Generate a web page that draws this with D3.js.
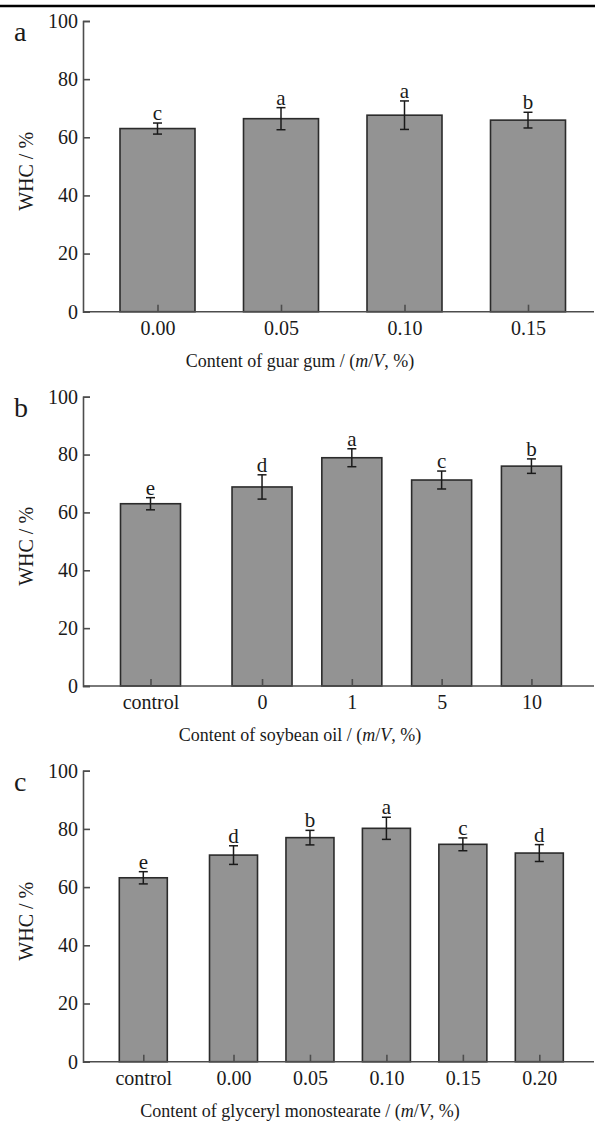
<!DOCTYPE html>
<html>
<head>
<meta charset="utf-8">
<script src="https://cdn.jsdelivr.net/npm/d3@7"></script>
<style>
  html, body { margin: 0; padding: 0; background: #fff; }
  svg { display: block; }
  text { font-family: "Liberation Serif", "Times New Roman", serif; fill: #1a1a1a; }
</style>
</head>
<body>
<svg id="chart" width="595" height="1122"></svg>
<script>
// ---------- data ----------
const yTicks = [0, 20, 40, 60, 80, 100];

const catsA = ["0.00", "0.05", "0.10", "0.15"];
const valsA = [63.0, 66.4, 67.6, 65.9];
const errA  = [1.9, 3.8, 4.9, 2.7];
const sigA  = ["c", "a", "a", "b"];

const catsB = ["control", "0", "1", "5", "10"];
const valsB = [63.0, 68.8, 78.9, 71.2, 76.0];
const errB  = [2.1, 4.2, 3.1, 3.1, 2.5];
const sigB  = ["e", "d", "a", "c", "b"];

const catsC = ["control", "0.00", "0.05", "0.10", "0.15", "0.20"];
const valsC = [63.2, 71.0, 77.0, 80.2, 74.7, 71.7];
const errC  = [2.1, 3.2, 2.5, 3.8, 2.2, 2.9];
const sigC  = ["e", "d", "b", "a", "c", "d"];

const titleA = "Content of guar gum";
const titleB = "Content of soybean oil";
const titleC = "Content of glyceryl monostearate";

// ---------- layout ----------
const svg = d3.select("#chart");
const FILL = "#939393", EDGE = "#2b2b2b", AXIS = "#4d4d4d";

// top rule of the page
svg.append("line").attr("x1", 0).attr("x2", 595).attr("y1", 6).attr("y2", 6)
  .attr("stroke", "#000").attr("stroke-width", 2.5);

const panels = [
  { tag: "a", cats: catsA, vals: valsA, errs: errA, sig: sigA, title: titleA,
    top: 21, bottom: 311.7, first: 157.5, step: 123.5, gap: 0, barW: 75 },
  { tag: "b", cats: catsB, vals: valsB, errs: errB, sig: sigB, title: titleB,
    top: 396.7, bottom: 686, first: 150.5, step: 89.8, gap: 0.242, barW: 60 },
  { tag: "c", cats: catsC, vals: valsC, errs: errC, sig: sigC, title: titleC,
    top: 770.7, bottom: 1061.7, first: 143.3, step: 76.45, gap: 0.18, barW: 48 }
];

const X0 = 83, X1 = 594;

panels.forEach(p => {
  const g = svg.append("g");
  const y = d3.scaleLinear().domain([0, 100]).range([p.bottom, p.top]);
  const slot = d3.scaleLinear().domain([0, 1]).range([p.first, p.first + p.step]);
  const xc = i => slot(i + (i > 0 ? p.gap : 0));
  const data = p.cats.map((c, i) => ({ c, v: p.vals[i], e: p.errs[i], s: p.sig[i], i }));

  // bars
  g.selectAll("rect.bar").data(data).join("rect")
    .attr("class", "bar")
    .attr("x", d => xc(d.i) - p.barW / 2)
    .attr("width", p.barW)
    .attr("y", d => y(d.v))
    .attr("height", d => y(0) - y(d.v))
    .attr("fill", FILL).attr("stroke", EDGE).attr("stroke-width", 1.6);

  // error bars
  const eb = g.selectAll("g.err").data(data).join("g").attr("class", "err")
    .attr("stroke", "#1a1a1a").attr("stroke-width", 1.5);
  eb.append("line").attr("x1", d => xc(d.i)).attr("x2", d => xc(d.i))
    .attr("y1", d => y(d.v + d.e)).attr("y2", d => y(d.v - d.e));
  eb.append("line").attr("x1", d => xc(d.i) - 4.5).attr("x2", d => xc(d.i) + 4.5)
    .attr("y1", d => y(d.v + d.e)).attr("y2", d => y(d.v + d.e));
  eb.append("line").attr("x1", d => xc(d.i) - 4.5).attr("x2", d => xc(d.i) + 4.5)
    .attr("y1", d => y(d.v - d.e)).attr("y2", d => y(d.v - d.e));

  // significance letters
  g.selectAll("text.sig").data(data).join("text").attr("class", "sig")
    .attr("x", d => xc(d.i)).attr("y", d => y(d.v + d.e) - 3)
    .attr("text-anchor", "middle").attr("font-size", 21).text(d => d.s);

  // y axis
  const ya = g.append("g").attr("transform", `translate(${X0},0)`)
    .call(d3.axisLeft(y).tickValues(yTicks).tickSize(-7).tickPadding(5).tickFormat(d3.format("d")));
  ya.select(".domain").attr("stroke", AXIS).attr("stroke-width", 1.6);
  ya.selectAll(".tick line").attr("stroke", AXIS).attr("stroke-width", 1.6);
  ya.selectAll(".tick text").attr("font-size", 20)
    .attr("font-family", "Liberation Serif, Times New Roman, serif").attr("fill", "#1a1a1a");

  // x axis: baseline + ticks at category centres
  const xPos = d3.scaleOrdinal().domain(p.cats).range(p.cats.map((c, i) => xc(i)));
  const xa = g.append("g").attr("transform", `translate(0,${p.bottom})`)
    .call(d3.axisBottom(xPos).tickSize(-7).tickPadding(9));
  xa.select(".domain").remove();
  g.append("line").attr("x1", X0).attr("x2", X1).attr("y1", p.bottom).attr("y2", p.bottom)
    .attr("stroke", AXIS).attr("stroke-width", 1.6);
  xa.selectAll(".tick line").attr("stroke", AXIS).attr("stroke-width", 1.6);
  xa.selectAll(".tick text").attr("font-size", 20)
    .attr("font-family", "Liberation Serif, Times New Roman, serif").attr("fill", "#1a1a1a");

  // x title
  const xt = g.append("text").attr("x", 300).attr("y", p.bottom + 55)
    .attr("text-anchor", "middle").attr("font-size", 18);
  xt.append("tspan").text(p.title + " / (");
  xt.append("tspan").attr("font-style", "italic").text("m");
  xt.append("tspan").text("/");
  xt.append("tspan").attr("font-style", "italic").text("V");
  xt.append("tspan").text(", %)");

  // y title
  const ymid = (p.top + p.bottom) / 2 + 5;
  g.append("text").attr("transform", `translate(33,${ymid}) rotate(-90)`)
    .attr("text-anchor", "middle").attr("font-size", 20).text("WHC / %");

  // panel tag
  g.append("text").attr("x", 14).attr("y", p.top + 20).attr("font-size", 28).text(p.tag);
});
</script>
</body>
</html>
